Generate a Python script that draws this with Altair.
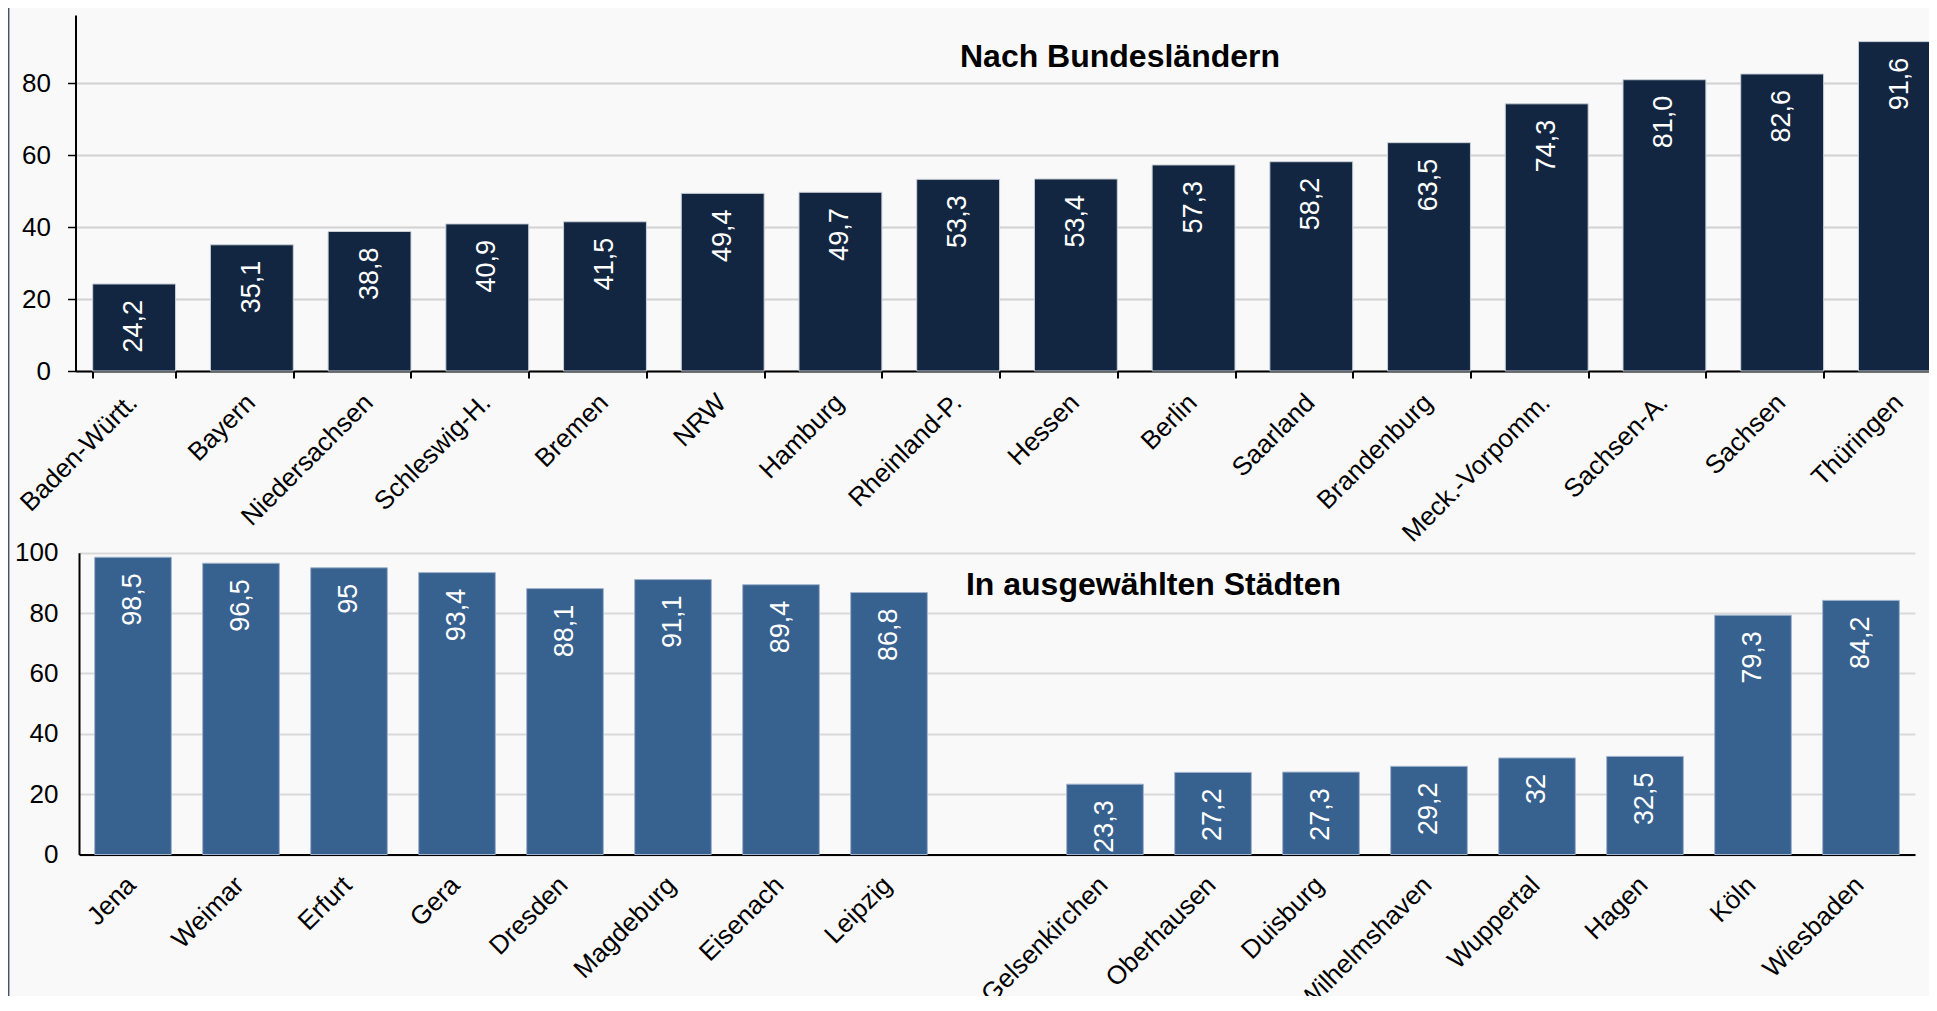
import altair as alt
import pandas as pd

FONT = "Liberation Sans"

# --- data -------------------------------------------------------------
laender = ["Baden-Württ.", "Bayern", "Niedersachsen", "Schleswig-H.", "Bremen", "NRW",
           "Hamburg", "Rheinland-P.", "Hessen", "Berlin", "Saarland", "Brandenburg",
           "Meck.-Vorpomm.", "Sachsen-A.", "Sachsen", "Thüringen"]
laender_werte = [24.2, 35.1, 38.8, 40.9, 41.5, 49.4, 49.7, 53.3, 53.4, 57.3, 58.2, 63.5,
                 74.3, 81.0, 82.6, 91.6]
laender_labels = ["24,2", "35,1", "38,8", "40,9", "41,5", "49,4", "49,7", "53,3", "53,4",
                  "57,3", "58,2", "63,5", "74,3", "81,0", "82,6", "91,6"]

staedte = ["Jena", "Weimar", "Erfurt", "Gera", "Dresden", "Magdeburg", "Eisenach", "Leipzig",
           "Gelsenkirchen", "Oberhausen", "Duisburg", "Wilhelmshaven", "Wuppertal", "Hagen",
           "Köln", "Wiesbaden"]
staedte_werte = [98.5, 96.5, 95, 93.4, 88.1, 91.1, 89.4, 86.8, 23.3, 27.2, 27.3, 29.2, 32,
                 32.5, 79.3, 84.2]
staedte_labels = ["98,5", "96,5", "95", "93,4", "88,1", "91,1", "89,4", "86,8", "23,3",
                  "27,2", "27,3", "29,2", "32", "32,5", "79,3", "84,2"]
luecke = " "
staedte_domain = staedte[:8] + [luecke] + staedte[8:]

titel_oben = ["Nach Bundesländern"]
titel_unten = ["In ausgewählten Städten"]

y_ticks_oben = [0, 20, 40, 60, 80]
y_ticks_unten = [0, 20, 40, 60, 80, 100]

# --- layout (pixels inside the single view) -----------------------------
PAD_L, PAD_T = 67.5, 7
W, H = 1921 - PAD_L, 981
TOP_Y0, TOP_Y1 = 356, 0          # top panel: zero line / top
BOT_Y0, BOT_Y1 = 839.5, 537.7    # bottom panel: zero line / top
TOP_W, BOT_W = 1883, 1836
BOT_X0 = 3.5

# --- top panel ----------------------------------------------------------
df1 = pd.DataFrame({"land": laender, "wert": laender_werte, "label": laender_labels})

x1 = alt.X("land:N", sort=laender, title=None,
           scale=alt.Scale(domain=laender, range=[0, TOP_W], paddingInner=0.296,
                           paddingOuter=0.146),
           axis=alt.Axis(orient="bottom", offset=-(H - TOP_Y0),
                         labelAngle=-45, labelFontSize=26, labelPadding=11, labelOffset=-10.5,
                         labelLimit=400, labelOverlap=False, labelColor="black",
                         labelFont=FONT,
                         ticks=True, tickSize=7, tickWidth=2, tickColor="black",
                         tickBand="extent", domainColor="black", domainWidth=2, grid=False))
y1 = alt.Y("wert:Q", title=None,
           scale=alt.Scale(domain=[0, 99], range=[TOP_Y0, TOP_Y1], nice=False, zero=True),
           axis=alt.Axis(orient="left", values=y_ticks_oben, labelFontSize=26, labelPadding=17,
                         labelColor="black", labelFont=FONT,
                         ticks=True, tickSize=8, tickWidth=1.5, tickColor="black",
                         domainColor="black", domainWidth=2,
                         grid=True, gridColor="#d2d2d2", gridWidth=2))

bars1 = alt.Chart(df1).mark_bar(color="#132641", stroke="#c9d0d8", strokeWidth=1).encode(
    x=x1, y=y1)
text1 = alt.Chart(df1).mark_text(angle=270, align="right", baseline="middle", dx=-16,
                                 color="white", fontSize=27, font=FONT).encode(
    x=alt.X("land:N", sort=laender), y=alt.Y("wert:Q"), text="label:N")
top = alt.layer(bars1, text1)

# --- bottom panel -------------------------------------------------------
df2 = pd.DataFrame({"stadt": staedte, "wert": staedte_werte, "label": staedte_labels})

x2 = alt.X("stadt:N", sort=staedte_domain, title=None,
           scale=alt.Scale(domain=staedte_domain, range=[BOT_X0, BOT_X0 + BOT_W],
                           paddingInner=0.29, paddingOuter=0.145),
           axis=alt.Axis(orient="bottom", offset=-(H - BOT_Y0),
                         labelAngle=-45, labelFontSize=26, labelPadding=17, labelOffset=-10.5,
                         labelLimit=400, labelOverlap=False, labelColor="black",
                         labelFont=FONT,
                         ticks=False, domainColor="black", domainWidth=2, grid=False))
y2 = alt.Y("wert:Q", title=None,
           scale=alt.Scale(domain=[0, 100], range=[BOT_Y0, BOT_Y1], nice=False),
           axis=alt.Axis(orient="left", offset=-BOT_X0, values=y_ticks_unten, labelFontSize=26,
                         labelPadding=21, labelColor="black", labelFont=FONT, ticks=False,
                         domainColor="black", domainWidth=2,
                         grid=True, gridColor="#d9d9d9", gridWidth=2))

bars2 = alt.Chart(df2).mark_bar(color="#37618f", stroke="#9fb4cc", strokeWidth=1).encode(
    x=x2, y=y2)
text2 = alt.Chart(df2).mark_text(angle=270, align="right", baseline="middle", dx=-16,
                                 color="white", fontSize=27, font=FONT).encode(
    x=alt.X("stadt:N", sort=staedte_domain), y=alt.Y("wert:Q"), text="label:N")
bottom = alt.layer(bars2, text2)

# --- panel titles and frame line ---------------------------------------
t1 = alt.Chart(pd.DataFrame({"t": titel_oben})).mark_text(
    font=FONT, fontSize=32, fontWeight="bold", color="black", align="center",
    baseline="alphabetic").encode(x=alt.value(1044.5), y=alt.value(52), text="t:N")
t2 = alt.Chart(pd.DataFrame({"t": titel_unten})).mark_text(
    font=FONT, fontSize=32, fontWeight="bold", color="black", align="center",
    baseline="alphabetic").encode(x=alt.value(1078), y=alt.value(BOT_Y1 + 42), text="t:N")
frame = alt.Chart(pd.DataFrame({"t": titel_oben})).mark_rule(
    color="#44546a", strokeWidth=1.5).encode(
    x=alt.value(-66.8), y=alt.value(-PAD_T), y2=alt.value(H))

chart = alt.layer(top, bottom, t1, t2, frame).resolve_scale(
    x="independent", y="independent").resolve_axis(x="independent", y="independent").properties(
    width=W, height=H,
    autosize=alt.AutoSizeParams(type="none"),
    padding={"left": PAD_L, "top": PAD_T, "right": 0, "bottom": 0},
    background="#f9f9f9",
).configure_view(stroke=None).configure_axis(labelFont=FONT)

chart.save("out.html", embed_options={"renderer": "svg", "actions": False})
